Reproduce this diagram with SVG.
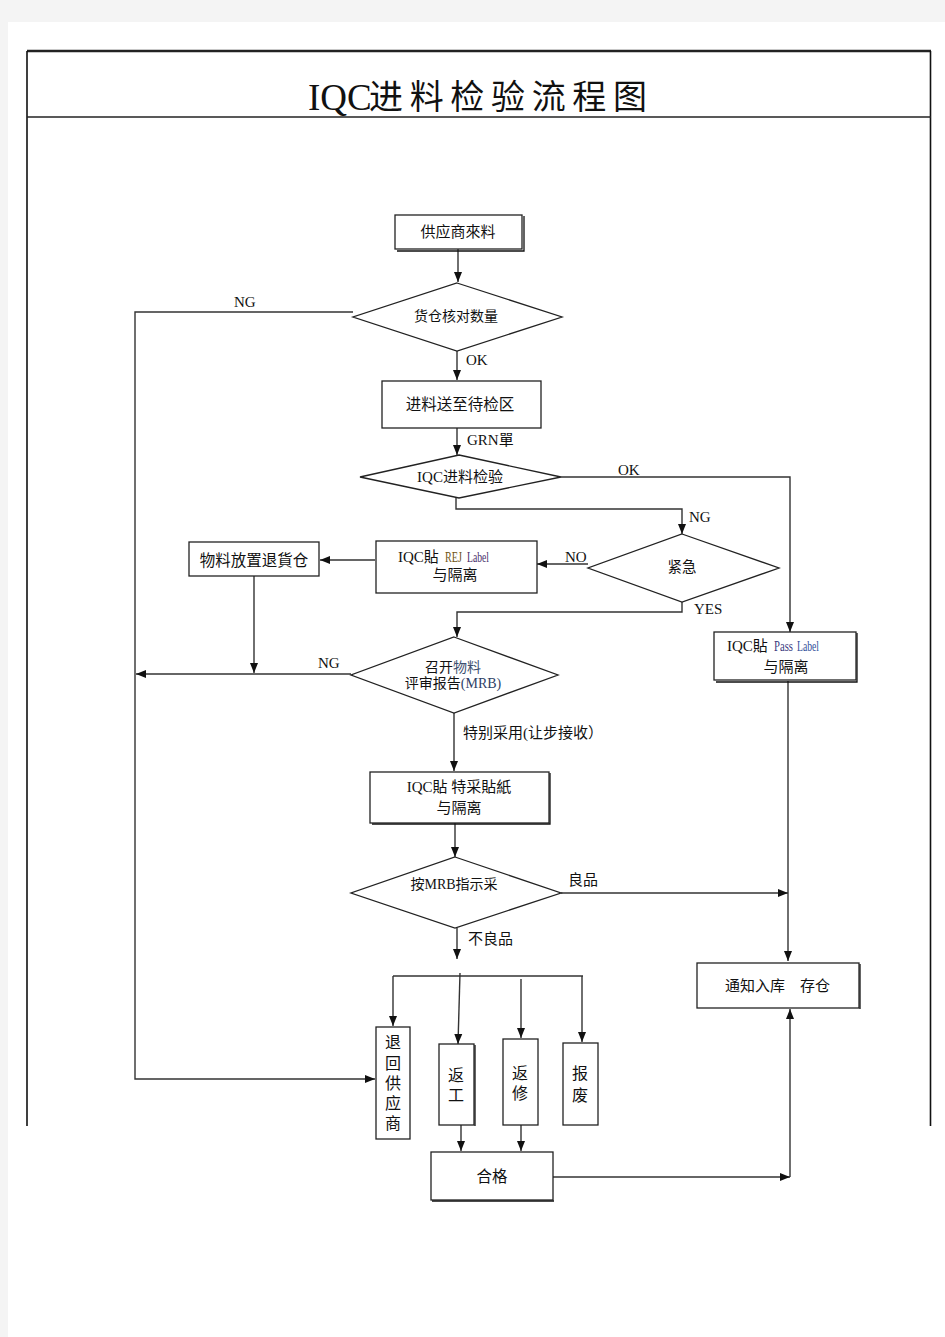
<svg xmlns="http://www.w3.org/2000/svg" width="945" height="1337" viewBox="0 0 945 1337">
<defs>
<style>
.bx{fill:#fff;stroke:#222;stroke-width:1.3}
.sh{fill:none;stroke:#111;stroke-width:1.3}
.ln{fill:none;stroke:#333;stroke-width:1.4}
.ar{fill:none;stroke:#333;stroke-width:1.4;marker-end:url(#ah)}
.t{font-family:"Liberation Serif","Noto Sans CJK SC",serif;fill:#111;text-anchor:middle;dominant-baseline:central}
.tl{font-family:"Liberation Serif","Noto Sans CJK SC",serif;fill:#111;dominant-baseline:central}
.lb{font-family:"Liberation Serif","Noto Sans CJK SC",serif;fill:#111;font-size:15px}
.nr{font-family:"Liberation Serif",serif;font-size:14px;dominant-baseline:central}
</style>
<marker id="ah" viewBox="0 0 10 10" refX="10" refY="5" markerWidth="10" markerHeight="10" markerUnits="userSpaceOnUse" orient="auto">
<path d="M0,1 L10,5 L0,9 z" fill="#111"/>
</marker>
</defs>
<rect x="0" y="0" width="945" height="1337" fill="#f4f4f4"/>
<rect x="8" y="22" width="937" height="1315" fill="#fff"/>
<g id="frame">
<path d="M27,51 H931" stroke="#222" stroke-width="2.5" fill="none"/>
<path d="M27,51 V1126 M930.5,51 V1126" stroke="#111" stroke-width="1.6" fill="none"/>
<path d="M27,117 H931" stroke="#222" stroke-width="1.3" fill="none"/>
<text x="308" y="110" font-family="Liberation Serif,serif" font-size="37" fill="#111">IQC</text>
<text x="369" y="109" font-family="Liberation Serif,'Noto Sans CJK SC',serif" font-size="34" fill="#111" textLength="278" lengthAdjust="spacing">进料检验流程图</text>
</g>
<g id="connectors">
<path class="ar" d="M458,249 V282"/>
<path class="ar" d="M353,312 H135 V1079 H375"/>
<path class="ar" d="M457,351 V380"/>
<path class="ar" d="M457,428 V455"/>
<path class="ar" d="M561,477 H790 V632"/>
<path class="ar" d="M456,498 V509 H682 V534"/>
<path class="ar" d="M588,564 H537"/>
<path class="ar" d="M375,560 H320"/>
<path class="ar" d="M254,576 V673"/>
<path class="ar" d="M682,602 V612 H457 V637"/>
<path class="ar" d="M351,674 H136"/>
<path class="ar" d="M454,713 V771"/>
<path class="ar" d="M455,823 V857"/>
<path class="ar" d="M561,893 H788"/>
<path class="ar" d="M788,681 V961"/>
<path class="ar" d="M457,928 V959"/>
<path class="ln" d="M393,976 H583"/>
<path class="ar" d="M393,976 V1026"/>
<path class="ar" d="M460,973 L458,1044"/>
<path class="ar" d="M521,979 V1038"/>
<path class="ar" d="M582,976 V1042"/>
<path class="ar" d="M461,1125 V1151"/>
<path class="ar" d="M521,1125 V1151"/>
<path class="ar" d="M553,1177 H790"/>
<path class="ar" d="M790,1177 V1009"/>
<text class="lb" x="234" y="307">NG</text>
<text class="lb" x="466" y="365">OK</text>
<text class="lb" x="467" y="445">GRN單</text>
<text class="lb" x="618" y="475">OK</text>
<text class="lb" x="689" y="522">NG</text>
<text class="lb" x="565" y="562">NO</text>
<text class="lb" x="694" y="614">YES</text>
<text class="lb" x="318" y="668">NG</text>
<text class="lb" x="463" y="738">特别采用(让步接收）</text>
<text class="lb" x="568" y="885">良品</text>
<text class="lb" x="468" y="944">不良品</text>
</g>
<g id="n-supplier">
<path class="sh" d="M524,216 V251 H397"/>
<rect class="bx" x="395" y="215" width="127" height="34"/>
<text class="t" x="458" y="232" font-size="15">供应商來料</text>
</g>
<g id="n-check-qty">
<polygon class="bx" points="457,283 562,317 457,351 353,317"/>
<text class="t" x="456" y="316" font-size="14">货仓核对数量</text>
</g>
<g id="n-to-area">
<rect class="bx" x="382" y="381" width="159" height="47"/>
<text class="t" x="460" y="404" font-size="15.5">进料送至待检区</text>
</g>
<g id="n-iqc-inspect">
<polygon class="bx" points="459,455 561,477 459,498 360,477"/>
<text class="t" x="460" y="477" font-size="15">IQC进料检验</text>
</g>
<g id="n-urgent">
<polygon class="bx" points="682,534 779,568 682,602 588,568"/>
<text class="t" x="682" y="567" font-size="14.5">紧急</text>
</g>
<g id="n-rej">
<rect class="bx" x="376" y="541" width="161" height="52"/>
<text class="tl" x="398" y="557" font-size="15">IQC貼</text>
<text class="nr" x="445" y="557" fill="#6e5414" textLength="17" lengthAdjust="spacingAndGlyphs">REJ</text>
<text class="nr" x="467" y="557" fill="#4a2f6b" textLength="22" lengthAdjust="spacingAndGlyphs">Label</text>
<text class="t" x="455" y="575" font-size="15">与隔离</text>
</g>
<g id="n-return-store">
<rect class="bx" x="189" y="542" width="130" height="34"/>
<text class="t" x="254" y="560" font-size="15.5">物料放置退貨仓</text>
</g>
<g id="n-mrb">
<polygon class="bx" points="454,637 558,675 454,713 351,675"/>
<text class="t" x="453" y="667" font-size="14">召开<tspan fill="#3d4f70">物料</tspan></text>
<text class="t" x="453" y="683" font-size="14">评审报告<tspan fill="#2f3f66">(MRB)</tspan></text>
</g>
<g id="n-pass">
<path class="sh" d="M857,633 V682 H716"/>
<rect class="bx" x="714" y="632" width="142" height="48"/>
<text class="tl" x="727" y="646" font-size="15">IQC貼</text>
<text class="nr" x="774" y="646" fill="#3b3a80" textLength="19" lengthAdjust="spacingAndGlyphs">Pass</text>
<text class="nr" x="797" y="646" fill="#2f4f9a" textLength="22" lengthAdjust="spacingAndGlyphs">Label</text>
<text class="t" x="786" y="667" font-size="15">与隔离</text>
</g>
<g id="n-special">
<path class="sh" d="M550,773 V824 H372"/>
<rect class="bx" x="370" y="772" width="179" height="51"/>
<text class="t" x="459" y="787" font-size="15">IQC貼 特采貼紙</text>
<text class="t" x="459" y="808" font-size="15">与隔离</text>
</g>
<g id="n-by-mrb">
<polygon class="bx" points="455,857 561,893 455,928 351,893"/>
<text class="t" x="454" y="884" font-size="14">按MRB指示采</text>
</g>
<g id="n-storage">
<path class="sh" d="M860,964 V1009"/>
<rect class="bx" x="697" y="963" width="162" height="45"/>
<text class="tl" x="725" y="986" font-size="15">通知入库</text>
<text class="tl" x="800" y="986" font-size="15">存仓</text>
</g>
<g id="n-return-supplier">
<rect class="bx" x="376" y="1027" width="34" height="112"/>
<text class="t" x="393" y="1042" font-size="16">退</text>
<text class="t" x="393" y="1063" font-size="16">回</text>
<text class="t" x="393" y="1083" font-size="16">供</text>
<text class="t" x="393" y="1103" font-size="16">应</text>
<text class="t" x="393" y="1123" font-size="16">商</text>
</g>
<g id="n-rework">
<path class="sh" d="M475,1045 V1126"/>
<rect class="bx" x="439" y="1044" width="35" height="81"/>
<text class="t" x="456" y="1075" font-size="16">返</text>
<text class="t" x="456" y="1095" font-size="16">工</text>
</g>
<g id="n-repair">
<rect class="bx" x="503" y="1039" width="35" height="86"/>
<text class="t" x="520" y="1073" font-size="16">返</text>
<text class="t" x="520" y="1093" font-size="16">修</text>
</g>
<g id="n-scrap">
<rect class="bx" x="563" y="1043" width="35" height="82"/>
<text class="t" x="580" y="1073" font-size="16">报</text>
<text class="t" x="580" y="1095" font-size="16">废</text>
</g>
<g id="n-pass-final">
<path class="sh" d="M432,1201 H554"/>
<rect class="bx" x="431" y="1152" width="122" height="48"/>
<text class="t" x="492" y="1176" font-size="15.5">合格</text>
</g>
</svg>
